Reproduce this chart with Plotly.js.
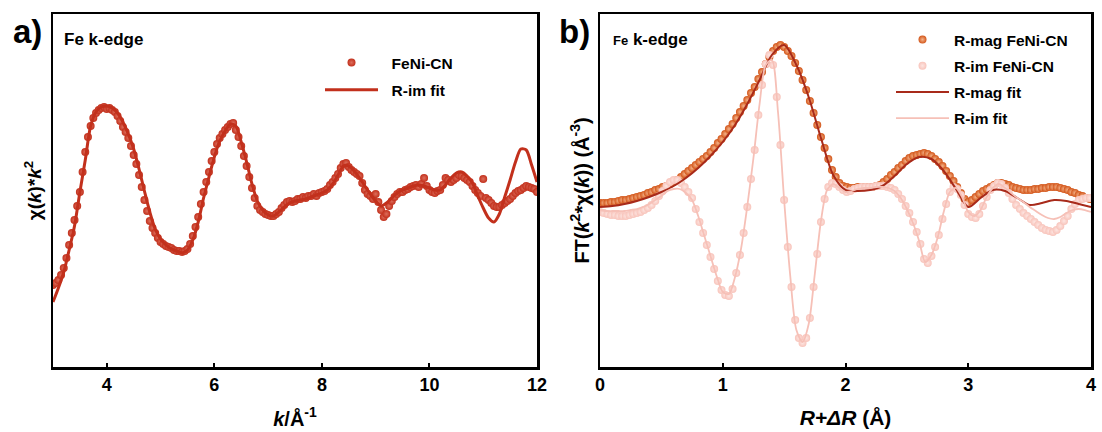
<!DOCTYPE html>
<html>
<head>
<meta charset="utf-8">
<script src="https://cdn.plot.ly/plotly-3.0.1.min.js"></script>
<style>html,body{margin:0;padding:0;background:#fff;}#chart{width:1102px;height:432px;}</style>
</head>
<body>
<div id="chart"></div>
<script>
// ---- Panel a) : chi(k)*k^2 vs k ----
const kData = [
 3.00,3.05,3.10,3.15,3.20,3.25,3.30,3.35,3.40,3.45,3.50,3.55,3.60,3.65,3.70,3.75,3.80,3.85,3.90,3.95,
 4.00,4.05,4.10,4.15,4.20,4.25,4.30,4.35,4.40,4.45,4.50,4.55,4.60,4.65,4.70,4.75,4.80,4.85,4.90,4.95,
 5.00,5.05,5.10,5.15,5.20,5.25,5.30,5.35,5.40,5.45,5.50,5.55,5.60,5.65,5.70,5.75,5.80,5.85,5.90,5.95,
 6.00,6.05,6.10,6.15,6.20,6.25,6.30,6.35,6.40,6.45,6.50,6.55,6.60,6.65,6.70,6.75,6.80,6.85,6.90,6.95,
 7.00,7.05,7.10,7.15,7.20,7.25,7.30,7.35,7.40,7.45,7.50,7.55,7.60,7.65,7.70,7.75,7.80,7.85,7.90,7.95,
 8.00,8.05,8.10,8.15,8.20,8.25,8.30,8.35,8.40,8.45,8.50,8.55,8.60,8.65,8.70,8.75,8.80,8.85,8.90,8.95,
 9.00,9.05,9.10,9.15,9.20,9.25,9.30,9.35,9.40,9.45,9.50,9.55,9.60,9.65,9.70,9.75,9.80,9.85,9.90,9.95,
 10.00,10.05,10.10,10.15,10.20,10.25,10.30,10.35,10.40,10.45,10.50,10.55,10.60,10.65,10.70,10.75,10.80,10.85,10.90,10.95,
 11.00,11.05,11.10,11.15,11.20,11.25,11.30,11.35,11.40,11.45,11.50,11.55,11.60,11.65,11.70,11.75,11.80,11.85,11.90,11.95,
 12.00];
const chiData = [
 -9.5,-9.3,-9.0,-8.5,-7.8,-6.8,-5.5,-4.3,-3.0,-1.6,-0.2,1.8,3.8,5.3,6.4,7.2,7.7,8.0,8.2,8.3,
 8.1,8.2,8.0,7.8,7.4,6.9,6.3,5.8,5.2,4.4,3.5,2.6,1.5,0.3,-1.0,-2.1,-3.1,-3.8,-4.3,-4.8,
 -5.2,-5.4,-5.6,-5.7,-5.8,-6.0,-6.1,-6.1,-6.2,-6.1,-5.9,-5.4,-4.6,-3.7,-2.7,-1.4,-0.2,0.8,1.8,2.9,
 3.8,4.6,5.2,5.6,6.0,6.3,6.6,6.7,6.0,5.3,4.4,3.4,2.4,1.3,0.2,-0.8,-1.6,-2.0,-2.2,-2.4,
 -2.5,-2.6,-2.6,-2.4,-2.2,-1.8,-1.5,-1.2,-1.1,-1.2,-1.1,-0.9,-0.9,-0.7,-0.8,-0.6,-0.6,-0.4,-0.6,-0.3,
 -0.2,-0.1,0.1,0.5,0.8,1.2,1.6,2.2,2.6,2.7,2.3,2.0,1.8,1.6,1.4,0.7,0.0,-0.4,-0.6,-0.9,
 -0.4,-1.2,-2.0,-2.7,-2.4,-1.6,-1.1,-0.7,-0.4,-0.2,-0.2,0.0,0.1,0.3,0.4,0.5,0.3,0.6,1.2,0.4,
 0.0,-0.2,-0.3,-0.1,0.0,0.5,1.2,1.0,0.8,1.0,1.2,1.5,1.4,1.2,1.0,0.8,0.4,0.0,-0.3,-0.6,
 1.1,-0.8,-1.0,-1.3,-1.6,-1.7,-1.7,-1.5,-1.3,-1.1,-0.9,-0.6,-0.3,-0.1,0.0,0.2,0.4,0.3,0.2,0.1,
 -0.2];
const kFitGrid = [3.0,3.1,3.2,3.3,3.4,3.5,3.6,3.7,3.8,3.9,4.0,4.1,4.2,4.3,4.4,4.5,4.6,4.7,4.8,4.9,5.0,5.1,5.2,5.3,5.4,5.5,5.6,5.7,5.8,5.9,6.0,6.1,6.2,6.3,6.4,6.5,6.6,6.7,6.8,6.9,7.0,7.1,7.2,7.3,7.4,7.5,7.6,7.7,7.8,7.9,8.0,8.1,8.2,8.3,8.4,8.5,8.6,8.7,8.8,8.9,9.0,9.1,9.2,9.3,9.4,9.5,9.6,9.7,9.8,9.9,10.0,10.1,10.2,10.3,10.4,10.5,10.6,10.7,10.8,10.9,11.0,11.1,11.2,11.3,11.4,11.5,11.6,11.7,11.8,11.9,12.0];
const chiFit = [-11.2,-9.8,-8.2,-6.0,-3.6,-0.2,3.0,6.4,7.8,8.3,8.4,8.2,7.7,6.8,5.6,4.1,2.1,-0.1,-2.2,-3.9,-4.9,-5.5,-5.9,-6.1,-6.3,-6.0,-5.0,-3.2,-0.8,1.3,3.3,4.9,5.9,6.6,6.4,4.8,2.8,0.6,-1.1,-2.0,-2.5,-2.6,-2.2,-1.7,-1.3,-1.1,-1.0,-0.9,-0.7,-0.5,-0.3,0.0,0.6,1.5,2.4,2.4,1.9,1.2,0.4,-0.4,-1.1,-1.6,-1.3,-0.8,-0.3,0.0,0.2,0.4,0.5,0.4,0.2,0.0,0.0,0.5,1.2,1.7,1.8,1.4,0.7,-0.6,-1.8,-2.8,-3.2,-2.4,-0.7,1.0,2.8,4.1,4.0,2.5,0.8];
const kTicks = [4,6,8,10,12];

// ---- Panel b) : FT magnitude / imaginary part vs R ----
const rData = [
 0.00,0.03,0.06,0.09,0.12,0.15,0.18,0.21,0.24,0.27,
 0.30,0.33,0.36,0.39,0.42,0.45,0.48,0.51,0.54,0.57,
 0.60,0.63,0.66,0.69,0.72,0.75,0.78,0.81,0.84,0.87,
 0.90,0.93,0.96,0.99,1.02,1.05,1.08,1.11,1.14,1.17,
 1.20,1.23,1.26,1.29,1.32,1.35,1.38,1.41,1.44,1.47,
 1.50,1.53,1.56,1.59,1.62,1.65,1.68,1.71,1.74,1.77,
 1.80,1.83,1.86,1.89,1.92,1.95,1.98,2.01,2.04,2.07,
 2.10,2.13,2.16,2.19,2.22,2.25,2.28,2.31,2.34,2.37,
 2.40,2.43,2.46,2.49,2.52,2.55,2.58,2.61,2.64,2.67,
 2.70,2.73,2.76,2.79,2.82,2.85,2.88,2.91,2.94,2.97,
 3.00,3.03,3.06,3.09,3.12,3.15,3.18,3.21,3.24,3.27,
 3.30,3.33,3.36,3.39,3.42,3.45,3.48,3.51,3.54,3.57,
 3.60,3.63,3.66,3.69,3.72,3.75,3.78,3.81,3.84,3.87,
 3.90,3.93,3.96,3.99];
const rMagData = [
 1.2,1.2,1.2,1.3,1.3,1.4,1.5,1.5,1.6,1.7,
 1.8,1.9,2.0,2.2,2.3,2.5,2.6,2.8,2.9,3.1,
 3.3,3.5,3.8,4.1,4.4,4.7,5.0,5.3,5.6,5.9,
 6.3,6.7,7.2,7.6,8.1,8.6,9.1,9.7,10.3,10.9,
 11.5,12.2,12.8,13.6,14.3,15.1,15.8,16.4,16.8,17.0,
 16.8,16.4,15.9,15.2,14.4,13.5,12.5,11.4,10.2,9.0,
 7.8,6.7,5.6,4.5,3.8,3.2,2.9,2.8,2.7,2.7,
 2.8,2.8,2.8,2.8,2.8,2.9,3.0,3.3,3.6,4.0,
 4.3,4.7,5.0,5.4,5.7,5.9,6.0,6.1,6.2,6.1,
 5.9,5.6,5.3,4.9,4.4,3.9,3.4,2.8,2.2,1.6,
 1.3,1.5,1.8,2.1,2.4,2.6,2.8,3.0,3.2,3.2,
 3.1,3.0,2.8,2.7,2.6,2.5,2.5,2.5,2.6,2.6,
 2.7,2.7,2.8,2.8,2.8,2.7,2.6,2.5,2.3,2.2,
 2.0,1.9,1.7,1.6];
const rImData = [
 0.3,0.2,0.1,0.0,0.0,-0.1,-0.1,-0.1,0.0,0.1,
 0.2,0.3,0.5,0.7,1.0,1.4,1.9,2.4,2.9,3.3,
 3.5,3.5,3.2,2.8,2.3,1.7,0.6,-0.7,-1.8,-3.0,
 -4.2,-5.4,-6.6,-7.5,-8.0,-8.1,-7.4,-5.8,-4.0,-1.8,
 0.8,3.6,6.5,10.0,13.0,15.1,16.0,15.0,11.8,7.0,
 1.5,-3.2,-7.2,-10.5,-12.3,-12.8,-12.3,-10.3,-7.2,-3.9,
 -0.7,1.6,2.8,3.2,3.1,2.8,2.5,2.3,2.4,2.6,
 2.7,2.8,2.8,2.8,2.8,2.9,2.9,2.9,2.8,2.7,
 2.5,2.1,1.6,0.9,0.2,-0.7,-1.7,-2.9,-4.4,-4.8,
 -4.1,-3.2,-2.0,-0.4,1.1,2.3,2.8,2.6,2.0,1.0,
 0.1,-0.2,-0.3,0.1,0.9,1.8,2.5,2.9,3.2,3.1,
 2.7,2.2,1.6,1.0,0.6,0.2,-0.1,-0.4,-0.7,-1.0,
 -1.3,-1.5,-1.6,-1.7,-1.5,-1.1,-0.6,-0.1,0.6,1.1,
 1.5,1.6,1.7,1.7];
const rImFitGrid = [0.00,0.05,0.10,0.15,0.20,0.25,0.30,0.35,0.40,0.45,0.50,0.55,0.60,0.65,0.70,0.75,0.80,0.85,0.90,0.95,1.00,1.05,1.10,1.15,1.20,1.25,1.30,1.35,1.40,1.45,1.50,1.55,1.60,1.65,1.70,1.75,1.80,1.85,1.90,1.95,2.00,2.05,2.10,2.15,2.20,2.25,2.30,2.35,2.40,2.45,2.50,2.55,2.60,2.65,2.70,2.75,2.80,2.85,2.90,2.95,3.00,3.05,3.10,3.15,3.20,3.25,3.30,3.35,3.40,3.45,3.50,3.55,3.60,3.65,3.70,3.75,3.80,3.85,3.90,3.95,4.00];
const rImFit = [0.5,0.4,0.4,0.4,0.4,0.5,0.6,0.8,1.1,1.5,1.9,2.4,2.6,2.6,2.2,1.5,-0.1,-2.1,-4.1,-6.1,-7.7,-7.9,-6.2,-3.3,0.9,5.7,11.1,15.0,15.5,10.3,1.5,-6.1,-11.5,-12.7,-10.9,-5.9,-0.6,2.5,3.1,2.7,2.3,2.4,2.6,2.7,2.7,2.8,2.8,2.7,2.4,1.7,0.6,-0.8,-2.6,-4.7,-4.0,-2.3,0.3,2.3,2.7,1.8,0.3,-0.1,0.5,1.8,2.7,3.1,2.7,2.2,1.7,1.3,0.8,0.4,0.0,-0.3,-0.4,-0.2,0.2,0.5,0.6,0.5,0.3];
const rMagFitGrid = [0.0,0.1,0.2,0.3,0.4,0.5,0.6,0.7,0.8,0.9,1.0,1.1,1.2,1.3,1.4,1.5,1.6,1.7,1.8,1.9,2.0,2.1,2.2,2.3,2.4,2.5,2.6,2.7,2.8,2.9,3.0,3.1,3.2,3.3,3.4,3.5,3.6,3.7,3.8,3.9,4.0];
const rMagFit = [0.8,0.9,1.1,1.4,1.8,2.3,2.9,3.7,4.7,5.9,7.3,9.0,11.1,13.5,16.0,17.0,15.0,11.8,7.7,4.0,2.5,2.4,2.5,2.9,3.9,5.1,5.8,5.6,4.4,2.6,0.8,1.7,2.5,2.4,1.7,1.0,1.2,1.5,1.4,1.1,0.8];
const rTicks = [0,1,2,3,4];

const FONT = 'Liberation Sans, Arial, sans-serif';
const W = 1102, H = 432;
const NB = '\u00a0\u00a0';

const traces = [
  {x:kData, y:chiData, xaxis:'x', yaxis:'y', type:'scatter', mode:'markers', name:NB+'FeNi-CN',
   legend:'legend', legendgroup:'a1',
   marker:{size:8, color:'#c2301c', gradient:{type:'radial', color:'#dd6e5c'}, line:{width:0}}},
  {x:kFitGrid, y:chiFit, xaxis:'x', yaxis:'y', type:'scatter', mode:'lines', name:NB+'R-im fit',
   legend:'legend', legendgroup:'a2',
   line:{color:'#c2301c', width:3, shape:'spline', smoothing:0.8}},
  {x:rData, y:rMagData, xaxis:'x2', yaxis:'y2', type:'scatter', mode:'markers', name:'R-mag FeNi-CN',
   legend:'legend2', legendgroup:'b1',
   marker:{size:8, color:'#d3561a', gradient:{type:'radial', color:'#f4b38a'}, line:{width:0}}},
  {x:rData, y:rImData, xaxis:'x2', yaxis:'y2', type:'scatter', mode:'markers', name:'R-im FeNi-CN',
   legend:'legend2', legendgroup:'b2',
   marker:{size:8, color:'#f8c4bb', gradient:{type:'radial', color:'#fde6e2'}, line:{width:0}}},
  {x:rMagFitGrid, y:rMagFit, xaxis:'x2', yaxis:'y2', type:'scatter', mode:'lines', name:'R-mag fit',
   legend:'legend2', legendgroup:'b3',
   line:{color:'#a82a1a', width:2, shape:'spline', smoothing:0.8}},
  {x:rImFitGrid, y:rImFit, xaxis:'x2', yaxis:'y2', type:'scatter', mode:'lines', name:'R-im fit',
   legend:'legend2', legendgroup:'b4',
   line:{color:'#f6c0b7', width:1.8, shape:'spline', smoothing:0.8}}
];

const axBase = {showgrid:false, zeroline:false, showline:true, mirror:true, linecolor:'#000', linewidth:2.5,
  ticks:'inside', ticklen:4, tickwidth:2, tickcolor:'#000',
  tickfont:{family:FONT, size:18, color:'#000', weight:'bold'}, automargin:false};
const yDom = [65/H, 418/H];

const layout = {
  width:W, height:H, margin:{l:0,r:0,t:0,b:0}, paper_bgcolor:'#fff', plot_bgcolor:'#fff',
  font:{family:FONT, color:'#000'},
  showlegend:true,
  xaxis: Object.assign({}, axBase, {domain:[53/W, 537/W], range:[3,12], tickvals:kTicks, anchor:'y',
    title:{text:'<i>k</i>/Å<sup>-1</sup>', font:{family:FONT, size:20, weight:'bold'}, standoff:18}}),
  yaxis: Object.assign({}, axBase, {domain:yDom, range:[-17.7,17.6], showticklabels:false, ticks:'', anchor:'x',
    title:{text:'χ(<i>k</i>)*<i>k</i><sup>2</sup>', font:{family:FONT, size:19, weight:'bold'}, standoff:4}}),
  xaxis2: Object.assign({}, axBase, {domain:[600/W, 1091/W], range:[0,4], tickvals:rTicks, anchor:'y2',
    title:{text:'<i>R+ΔR</i> (Å)', font:{family:FONT, size:21, weight:'bold'}, standoff:16}}),
  yaxis2: Object.assign({}, axBase, {domain:yDom, range:[-15.2,20.1], showticklabels:false, ticks:'', anchor:'x2',
    title:{text:'FT(<i>k</i><sup>2</sup>*χ(<i>k</i>)) (Å<sup>-3</sup>)', font:{family:FONT, size:20, weight:'bold'}, standoff:3}}),
  legend:{x:320/W, y:1-46/H, xanchor:'left', yanchor:'top', bgcolor:'rgba(0,0,0,0)', borderwidth:0,
    font:{family:FONT, size:15.5, color:'#000', weight:'bold'}, itemwidth:53, traceorder:'grouped', tracegroupgap:4},
  legend2:{x:891/W, y:1-23/H, xanchor:'left', yanchor:'top', bgcolor:'rgba(0,0,0,0)', borderwidth:0,
    font:{family:FONT, size:15.5, color:'#000', weight:'bold'}, itemwidth:53, traceorder:'grouped', tracegroupgap:3},
  annotations:[
    {text:'a)', xref:'paper', yref:'paper', x:27/W, y:1-31/H, xanchor:'center', yanchor:'middle', showarrow:false,
     font:{family:FONT, size:33, weight:'bold', color:'#000'}},
    {text:'b)', xref:'paper', yref:'paper', x:574/W, y:1-31/H, xanchor:'center', yanchor:'middle', showarrow:false,
     font:{family:FONT, size:33, weight:'bold', color:'#000'}},
    {text:'Fe k-edge', xref:'paper', yref:'paper', x:62/W, y:1-40/H, xanchor:'left', yanchor:'middle', showarrow:false,
     font:{family:FONT, size:17, weight:'bold', color:'#000'}},
    {text:'<span style="font-size:13px">Fe</span> k-edge', xref:'paper', yref:'paper', x:611/W, y:1-40/H, xanchor:'left', yanchor:'middle', showarrow:false,
     font:{family:FONT, size:17, weight:'bold', color:'#000'}}
  ]
};

Plotly.newPlot('chart', traces, layout, {displayModeBar:false, staticPlot:true});
const pairs = [[kData,chiData],[kFitGrid,chiFit],[rData,rMagData],[rData,rImData],[rImFitGrid,rImFit],[rMagFitGrid,rMagFit]];
pairs.forEach((p,i)=>{ if(p[0].length!==p[1].length) console.error('length mismatch in pair '+i+': '+p[0].length+' vs '+p[1].length); });
</script>
</body>
</html>
